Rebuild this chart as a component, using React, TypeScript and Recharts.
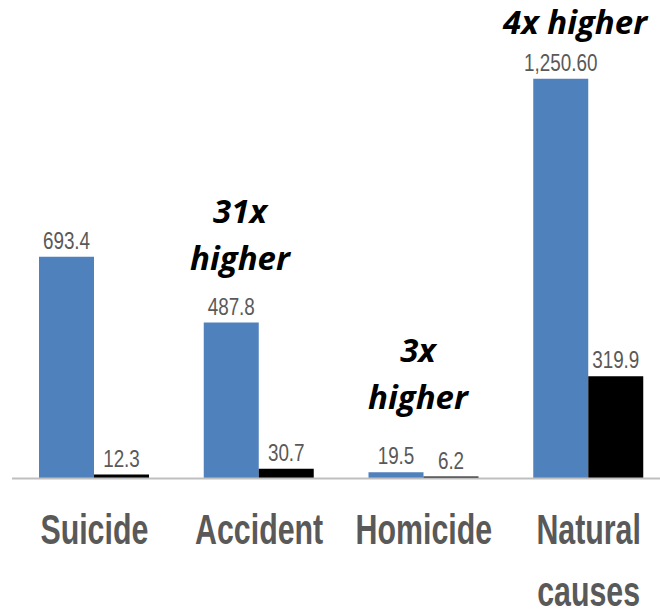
import { BarChart, Bar, XAxis, YAxis, LabelList } from 'recharts';

const categories = ['Suicide', 'Accident', 'Homicide', 'Natural causes'];
const blueValues = [693.4, 487.8, 19.5, 1250.6];
const blackValues = [12.3, 30.7, 6.2, 319.9];
const noteLines = [[], ['31x', 'higher'], ['3x', 'higher'], ['4x higher']];

const data = categories.map((name, i) => ({
  name,
  blue: blueValues[i],
  black: blackValues[i],
}));

const GRAY = '#595959';
const SANS = '"Liberation Sans", Arial, sans-serif';

// where each group's callout sits (centre x, first baseline)
const notePos = [null, { x: 240, y: 223 }, { x: 418, y: 362 }, { x: 575, y: 34 }];

const formatValue = (v: number) =>
  v >= 1000
    ? v.toLocaleString('en-US', { minimumFractionDigits: 2, maximumFractionDigits: 2 })
    : String(v);

// condensed-looking text: squeeze Liberation Sans horizontally
function CategoryTick({ x, y, payload }: any) {
  const words: string[] = payload.value === 'Natural causes' ? ['Natural', 'causes'] : [payload.value];
  return (
    <g transform={`translate(${x},${y}) scale(0.82,1.13)`}>
      {words.map((w, i) => (
        <text
          key={w}
          x={0}
          y={51 + i * 55}
          textAnchor="middle"
          fill={GRAY}
          fontFamily={SANS}
          fontWeight="bold"
          fontSize={37}
        >
          {w}
        </text>
      ))}
    </g>
  );
}

function ValueLabel({ x, y, width, value }: any) {
  return (
    <text
      transform={`translate(${Number(x) + Number(width) / 2},${Number(y) - 8}) scale(0.82,1)`}
      textAnchor="middle"
      fill={GRAY}
      fontFamily={SANS}
      fontSize={23}
    >
      {formatValue(Number(value))}
    </text>
  );
}

export default function App() {
  return (
    <div style={{ position: 'absolute', left: 0, top: 0, width: 660, height: 615, overflow: 'hidden', background: '#fff' }}>
      <BarChart
        width={680}
        height={615}
        data={data}
        margin={{ top: 31, right: 9, left: 12, bottom: 16.5 }}
        barGap={0}
        barSize={55}
      >
        <XAxis
          dataKey="name"
          interval={0}
          height={120}
          tickLine={false}
          axisLine={{ stroke: '#bfbfbf', strokeWidth: 2 }}
          tick={<CategoryTick />}
        />
        <YAxis hide domain={[0, 1400]} />
        <Bar dataKey="blue" fill="#4f81bd" isAnimationActive={false}>
          <LabelList dataKey="blue" content={<ValueLabel />} />
        </Bar>
        <Bar dataKey="black" fill="#000000" isAnimationActive={false}>
          <LabelList dataKey="black" content={<ValueLabel />} />
        </Bar>
      </BarChart>
      <svg width={660} height={615} style={{ position: 'absolute', left: 0, top: 0, pointerEvents: 'none' }}>
        {noteLines.map((lines, i) => {
          const pos = notePos[i];
          if (!pos) return null;
          return lines.map((line, j) => (
            <text
              key={`${i}-${j}`}
              x={pos.x}
              y={pos.y + j * 47}
              textAnchor="middle"
              fontFamily='"Open Sans", sans-serif'
              fontWeight="bold"
              fontStyle="italic"
              fontSize={33}
              fill="#000"
            >
              {line}
            </text>
          ));
        })}
      </svg>
    </div>
  );
}
